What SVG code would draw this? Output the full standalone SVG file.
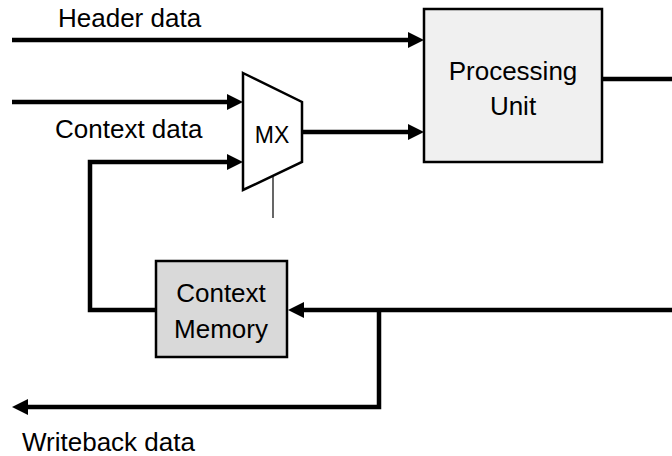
<svg xmlns="http://www.w3.org/2000/svg" width="672" height="456" viewBox="0 0 672 456">
  <defs>
    <!-- filled arrowhead; path ends 10px before the tip -->
    <marker id="arrow" markerUnits="userSpaceOnUse" markerWidth="16" markerHeight="16" refX="6" refY="8" orient="auto">
      <path d="M0,0 L16,8 L0,16 z" fill="#000"/>
    </marker>
    <style>
      .wire { fill: none; stroke: #000; stroke-width: 4.5; }
      .wire-arrow { fill: none; stroke: #000; stroke-width: 4.5; marker-end: url(#arrow); }
      .thin { fill: none; stroke: #000; stroke-width: 1.2; }
      .block { stroke: #000; stroke-width: 2.5; }
      .label { font-family: "Liberation Sans", Arial, sans-serif; font-size: 26px; fill: #000; }
      .center { text-anchor: middle; }
    </style>
  </defs>
  <rect width="672" height="456" fill="#fff"/>

  <!-- connectors -->
  <g id="connectors">
    <path class="wire-arrow" d="M12,40 H414"/>
    <path class="wire-arrow" d="M12,102 H233"/>
    <path class="wire-arrow" d="M156,310 H90 V162 H233"/>
    <path class="wire-arrow" d="M302,132 H414"/>
    <path class="wire" d="M602,79 H672"/>
    <path class="wire-arrow" d="M672,310 H298"/>
    <path class="wire-arrow" d="M379,310 V407 H22"/>
    <path class="thin" d="M273,176 V218"/>
  </g>

  <!-- signal labels -->
  <text class="label" x="58" y="27">Header data</text>
  <text class="label" x="55" y="138">Context data</text>
  <text class="label" x="22" y="451">Writeback data</text>

  <!-- multiplexer -->
  <g id="mux">
    <path class="block" fill="#fff" d="M243,73 L302,102 L302,162 L243,190 z"/>
    <text class="label center" x="272" y="143" style="font-size:23px">MX</text>
  </g>

  <!-- processing unit -->
  <g id="processing-unit">
    <rect class="block" x="424" y="9" width="178" height="153" fill="#f0f0f0"/>
    <text class="label center" x="513" y="80">Processing</text>
    <text class="label center" x="513" y="115">Unit</text>
  </g>

  <!-- context memory -->
  <g id="context-memory">
    <rect class="block" x="156" y="261" width="131" height="96" fill="#d9d9d9"/>
    <text class="label center" x="221" y="302">Context</text>
    <text class="label center" x="221" y="338">Memory</text>
  </g>
</svg>
